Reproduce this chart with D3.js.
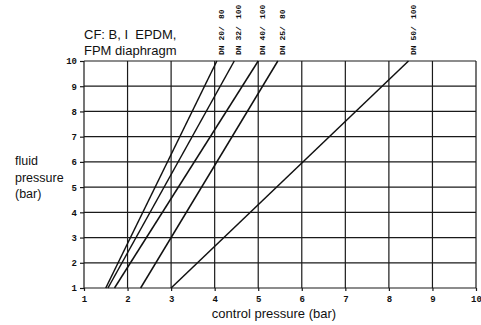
<!DOCTYPE html>
<html>
<head>
<meta charset="utf-8">
<script src="https://cdn.jsdelivr.net/npm/d3@7"></script>
<style>
body { margin: 0; background: #fff; }
svg { display: block; }
</style>
</head>
<body>
<svg id="chart"></svg>
<script>
// chart values
var xTicks = [1, 2, 3, 4, 5, 6, 7, 8, 9, 10];
var yTicks = [1, 2, 3, 4, 5, 6, 7, 8, 9, 10];
var lineNames = ["DN 20/", "DN 32/", "DN 40/", "DN 25/", "DN 50/"];
var lineSizes = ["80", "100", "100", "80", "100"];
var controlStart = [1.5, 1.55, 1.7, 2.3, 3.0];
var controlEnd = [4.05, 4.45, 5.0, 5.45, 8.45];
var fluidStart = [1, 1, 1, 1, 1];
var fluidEnd = [10, 10, 10, 10, 10];

var width = 481,
    height = 325;

var svg = d3.select("#chart").attr("width", width).attr("height", height);

var x = d3.scaleLinear().domain([1, 10]).range([84, 476]);
var y = d3.scaleLinear().domain([1, 10]).range([288, 61]);

var tickFont = "'Liberation Mono', 'DejaVu Sans Mono', monospace";
var textFont = "'Liberation Sans', Arial, sans-serif";

// grid
svg.append("g").selectAll("line").data(xTicks).enter().append("line")
	.attr("x1", function(d) { return x(d); }).attr("x2", function(d) { return x(d); })
	.attr("y1", y(1)).attr("y2", y(10))
	.attr("stroke", "#1a1a1a").attr("stroke-width", 1.2);
svg.append("g").selectAll("line").data(yTicks).enter().append("line")
	.attr("y1", function(d) { return y(d); }).attr("y2", function(d) { return y(d); })
	.attr("x1", x(1)).attr("x2", x(10))
	.attr("stroke", "#1a1a1a").attr("stroke-width", 1.2);

// axes
var xAxis = svg.append("g").attr("transform", "translate(0," + y(1) + ")")
	.call(d3.axisBottom(x).tickValues(xTicks).tickSize(3).tickPadding(5).tickFormat(d3.format("d")));
var yAxis = svg.append("g").attr("transform", "translate(" + x(1) + ",0)")
	.call(d3.axisLeft(y).tickValues(yTicks).tickSize(4).tickPadding(3).tickFormat(d3.format("d")));
[xAxis, yAxis].forEach(function(a) {
	a.select(".domain").remove();
	a.selectAll("line").attr("stroke", "#1a1a1a").attr("stroke-width", 1.2);
	a.selectAll("text").attr("font-family", tickFont).attr("font-weight", "bold")
		.attr("font-size", 9).attr("fill", "#111");
});

// lines
for (var i = 0; i < lineNames.length; i++) {
	svg.append("line")
		.attr("x1", x(controlStart[i])).attr("y1", y(fluidStart[i]))
		.attr("x2", x(controlEnd[i])).attr("y2", y(fluidEnd[i]))
		.attr("stroke", "#111").attr("stroke-width", 1.5);

	var lx = x(controlEnd[i]) + 5;
	svg.append("text").text(lineNames[i])
		.attr("transform", "translate(" + lx + ",55) rotate(-90)")
		.attr("dominant-baseline", "middle")
		.attr("font-family", tickFont).attr("font-weight", "bold").attr("font-size", 8)
		.attr("fill", "#111");
	svg.append("text").text(lineSizes[i])
		.attr("transform", "translate(" + lx + ",19) rotate(-90)")
		.attr("dominant-baseline", "middle")
		.attr("font-family", tickFont).attr("font-weight", "bold").attr("font-size", 8)
		.attr("fill", "#111");
}

// titles
svg.append("text").text("CF: B, I  EPDM,").attr("x", 84).attr("y", 39)
	.attr("font-family", textFont).attr("font-size", 13).attr("fill", "#111").style("white-space", "pre");
svg.append("text").text("FPM diaphragm").attr("x", 84).attr("y", 55)
	.attr("font-family", textFont).attr("font-size", 13).attr("fill", "#111");

var yLabel = ["fluid", "pressure", "(bar)"];
svg.selectAll(".ylab").data(yLabel).enter().append("text")
	.text(function(d) { return d; })
	.attr("x", 15).attr("y", function(d, k) { return 165 + k * 16.5; })
	.attr("font-family", textFont).attr("font-size", 12.5).attr("fill", "#111");

svg.append("text").text("control pressure (bar)").attr("x", 274).attr("y", 318)
	.attr("text-anchor", "middle")
	.attr("font-family", textFont).attr("font-size", 13).attr("fill", "#111");
</script>
</body>
</html>
